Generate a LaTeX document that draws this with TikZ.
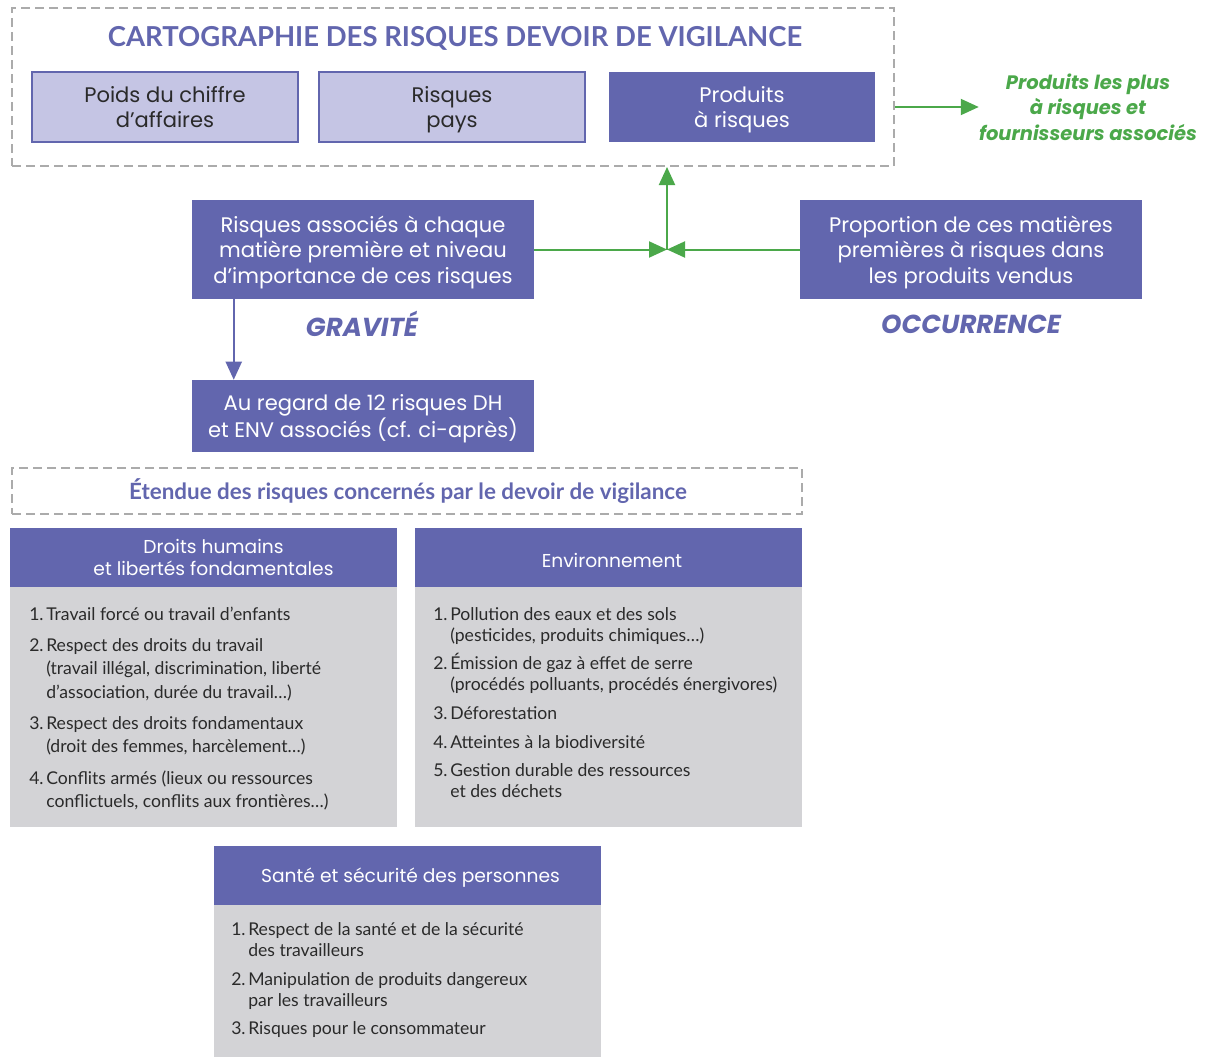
\documentclass[tikz,border=0pt]{standalone}
\usepackage{fontspec}
\setmainfont{Lato}
\newfontfamily\boxf{Poppins}
\usetikzlibrary{arrows.meta}
\newdimen\px \px=0.75pt
\definecolor{pur}{HTML}{6266AE}
\definecolor{lav}{HTML}{C5C5E4}
\definecolor{bodyg}{HTML}{D3D3D6}
\definecolor{dashg}{HTML}{ABABAB}
\definecolor{grn}{HTML}{4BA84A}
\definecolor{txt}{HTML}{2A2A2A}
\newcommand\litem[2]{\makebox[17\px][l]{#1}\parbox[t]{345\px}{\raggedright #2}}
\tikzset{
  dashbox/.style={draw=dashg, line width=1.5pt, dash pattern=on 6.75pt off 3.75pt},
  lbox/.style={draw=pur, fill=lav, line width=1.5pt, minimum width=266\px, minimum height=70\px, align=center, text=txt, inner sep=0pt, text depth=0pt, font=\boxf\fontsize{15.8}{19}\selectfont},
  dbox/.style={fill=pur, minimum width=266\px, minimum height=70\px, align=center, text=white, inner sep=0pt, text depth=0pt, font=\boxf\fontsize{15.8}{19}\selectfont},
  hbox/.style={fill=pur, minimum width=387\px, minimum height=59\px, inner sep=0pt},
  htext/.style={align=center, text=white, inner sep=0pt, font=\boxf\fontsize{14}{16.5}\selectfont},
  gbody/.style={fill=bodyg, minimum width=387\px, inner sep=0pt},
  item/.style={anchor=base west, inner sep=0pt, text=txt, font=\fontsize{13.2}{15.75}\selectfont},
  itemdh/.style={item, font=\fontsize{13.2}{17.6}\selectfont},
  title/.style={text=pur, inner sep=0pt, font=\bfseries\fontsize{20.6}{24}\selectfont},
  gtext/.style={text=grn, align=center, inner sep=0pt, font=\boxf\bfseries\itshape\fontsize{14.6}{19}\selectfont},
  axis/.style={text=pur, inner sep=0pt, font=\boxf\bfseries\itshape\fontsize{19.5}{23}\selectfont},
  garrow/.style={draw=grn, line width=1.5pt, -{Triangle[length=13.5pt, width=12pt]}},
  parrow/.style={draw=pur, line width=1.5pt, -{Triangle[length=13.5pt, width=12pt]}},
}
\begin{document}
\begin{tikzpicture}[x=0.75pt,y=-0.75pt]
\useasboundingbox (0,0) rectangle (1207,1057);
% top dashed frame
\node[dashbox, minimum width=882\px, minimum height=158\px] (carto) at (453,87) {};
\node[title] (ttl) at (455,38) {CARTOGRAPHIE DES RISQUES DEVOIR DE VIGILANCE};
\node[lbox] (poids) at (165,107) {Poids du chiffre\\d’affaires};
\node[lbox] (pays) at (452,107) {Risques\\pays};
\node[dbox] (prod) at (742,107) {Produits\\à risques};
\node[gtext] (res) at (1088,107) {Produits les plus\\à risques et\\fournisseurs associés};
\draw[garrow] (carto.east |- prod) -- (res.west);
% middle
\node[dbox, minimum width=342\px, minimum height=99\px] (risk) at (363,249.5) {Risques associés à chaque\\matière première et niveau\\d’importance de ces risques};
\node[dbox, minimum width=342\px, minimum height=99\px] (prop) at (971,249.5) {Proportion de ces matières\\premières à risques dans\\les produits vendus};
\coordinate (junc) at (667,249.5);
\draw[garrow] (risk.east) -- (junc);
\draw[garrow] (prop.west) -- (junc);
\draw[garrow] (junc) -- (junc |- carto.south);
\node[axis] (grav) at (362,324) {GRAVITÉ};
\node[axis] (occ) at (971,324) {OCCURRENCE};
\node[dbox, minimum width=342\px, minimum height=72\px] (au) at (363,416) {Au regard de 12 risques DH\\et ENV associés (cf. ci-après)};
\draw[parrow] ([xshift=42\px]risk.south west) -- ([xshift=42\px]au.north west);
% scope frame
\node[dashbox, minimum width=790\px, minimum height=46\px] (etendue) at (407,491) {};
\node[text=pur, inner sep=0pt, font=\bfseries\fontsize{16.8}{19}\selectfont] (etxt) at (408,491) {Étendue des risques concernés par le devoir de vigilance};
% DH
\node[gbody, minimum height=240\px] (dhb) at (203.5,707) {};
\node[hbox] (dhh) at (203.5,557.5) {};
\node[htext] (dht) at (213.5,557) {Droits humains\\et libertés fondamentales};
\node[itemdh] (dh1) at (29,620.5) {\litem{1.}{Travail forcé ou travail d’enfants}};
\node[itemdh] (dh2) at (29,651.5) {\litem{2.}{Respect des droits du travail\\(travail illégal, discrimination, liberté\\d’association, durée du travail…)}};
\node[itemdh] (dh3) at (29,729.5) {\litem{3.}{Respect des droits fondamentaux\\(droit des femmes, harcèlement…)}};
\node[itemdh] (dh4) at (29,784.5) {\litem{4.}{Conflits armés (lieux ou ressources\\conflictuels, conflits aux frontières…)}};
% ENV
\node[gbody, minimum height=240\px] (envb) at (608.5,707) {};
\node[hbox] (envh) at (608.5,557.5) {};
\node[htext] (envt) at (612,560) {Environnement};
\node[item] (env1) at (433,620.5) {\litem{1.}{Pollution des eaux et des sols\\(pesticides, produits chimiques…)}};
\node[item] (env2) at (433,669.5) {\litem{2.}{Émission de gaz à effet de serre\\(procédés polluants, procédés énergivores)}};
\node[item] (env3) at (433,719.5) {\litem{3.}{Déforestation}};
\node[item] (env4) at (433,748.5) {\litem{4.}{Atteintes à la biodiversité}};
\node[item] (env5) at (433,776.5) {\litem{5.}{Gestion durable des ressources\\et des déchets}};
% Sante
\node[gbody, minimum height=153\px] (sab) at (407.5,981.5) {};
\node[hbox] (sah) at (407.5,875.5) {};
\node[htext] (sat) at (410.5,878) {Santé et sécurité des personnes};
\node[item] (sa1) at (231,935.5) {\litem{1.}{Respect de la santé et de la sécurité\\des travailleurs}};
\node[item] (sa2) at (231,985.5) {\litem{2.}{Manipulation de produits dangereux\\par les travailleurs}};
\node[item] (sa3) at (231,1034.5) {\litem{3.}{Risques pour le consommateur}};
\end{tikzpicture}
\end{document}
